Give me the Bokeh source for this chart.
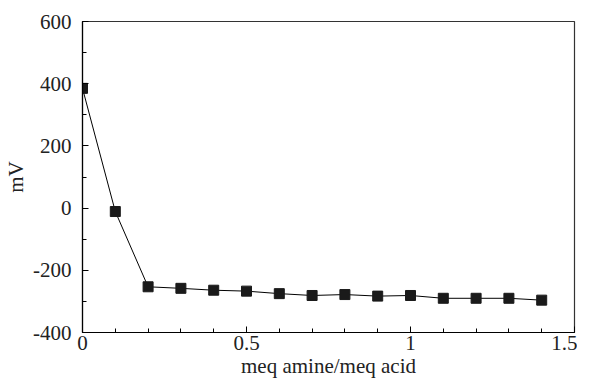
from bokeh.plotting import figure
from bokeh.embed import file_html
from bokeh.resources import INLINE
from bokeh.models import FixedTicker, Range1d

ratio = [0, 0.1, 0.2, 0.3, 0.4, 0.5, 0.6, 0.7, 0.8, 0.9, 1.0, 1.1, 1.2, 1.3, 1.4]
mv = [385, -11, -253, -258, -264, -267, -275, -281, -278, -283, -281, -290, -290, -290, -296]

x_ticks = [0, 0.5, 1, 1.5]
x_labels = ["0", "0.5", "1", "1.5"]
y_ticks = [-400, -200, 0, 200, 400, 600]
y_labels = ["-400", "-200", "0", "200", "400", "600"]

FONT = "Liberation Serif"

p = figure(width=577, height=380, output_backend="svg", toolbar_location=None,
           x_range=Range1d(0, 1.5), y_range=Range1d(-400, 600))
p.min_border_left = 82
p.min_border_right = 3
p.min_border_top = 21
p.min_border_bottom = 45

p.line(ratio, mv, line_color="black", line_width=1)
p.scatter(ratio, mv, marker="square", size=10, fill_color="#1a1a1a", line_color="#1a1a1a")

p.xgrid.visible = False
p.ygrid.visible = False
p.outline_line_color = "#333333"
p.outline_line_width = 1.2

p.xaxis.ticker = FixedTicker(ticks=x_ticks, minor_ticks=[i / 10 for i in range(16)])
p.yaxis.ticker = FixedTicker(ticks=y_ticks, minor_ticks=list(range(-400, 601, 100)))
p.xaxis.major_label_overrides = dict(zip(x_ticks, x_labels))
p.yaxis.major_label_overrides = dict(zip(y_ticks, y_labels))

p.axis.axis_line_color = "black"
p.axis.axis_line_width = 1.2
p.axis.major_tick_in = 6
p.axis.major_tick_out = 0
p.axis.minor_tick_in = 4
p.axis.minor_tick_out = 0
p.axis.major_tick_line_color = "black"
p.axis.minor_tick_line_color = "black"
p.axis.major_label_text_font = FONT
p.axis.major_label_text_font_size = "21px"
p.axis.major_label_text_color = "#222222"
p.axis.axis_label_text_font = FONT
p.axis.axis_label_text_font_size = "21px"
p.axis.axis_label_text_font_style = "normal"
p.axis.axis_label_text_color = "#222222"

p.xaxis.axis_label = "meq amine/meq acid"
p.yaxis.axis_label = "mV"
p.xaxis.major_label_standoff = 3
p.yaxis.major_label_standoff = 11
p.xaxis.axis_label_standoff = 1
p.yaxis.axis_label_standoff = 2

open("out.html", "w").write(file_html(p, INLINE))
